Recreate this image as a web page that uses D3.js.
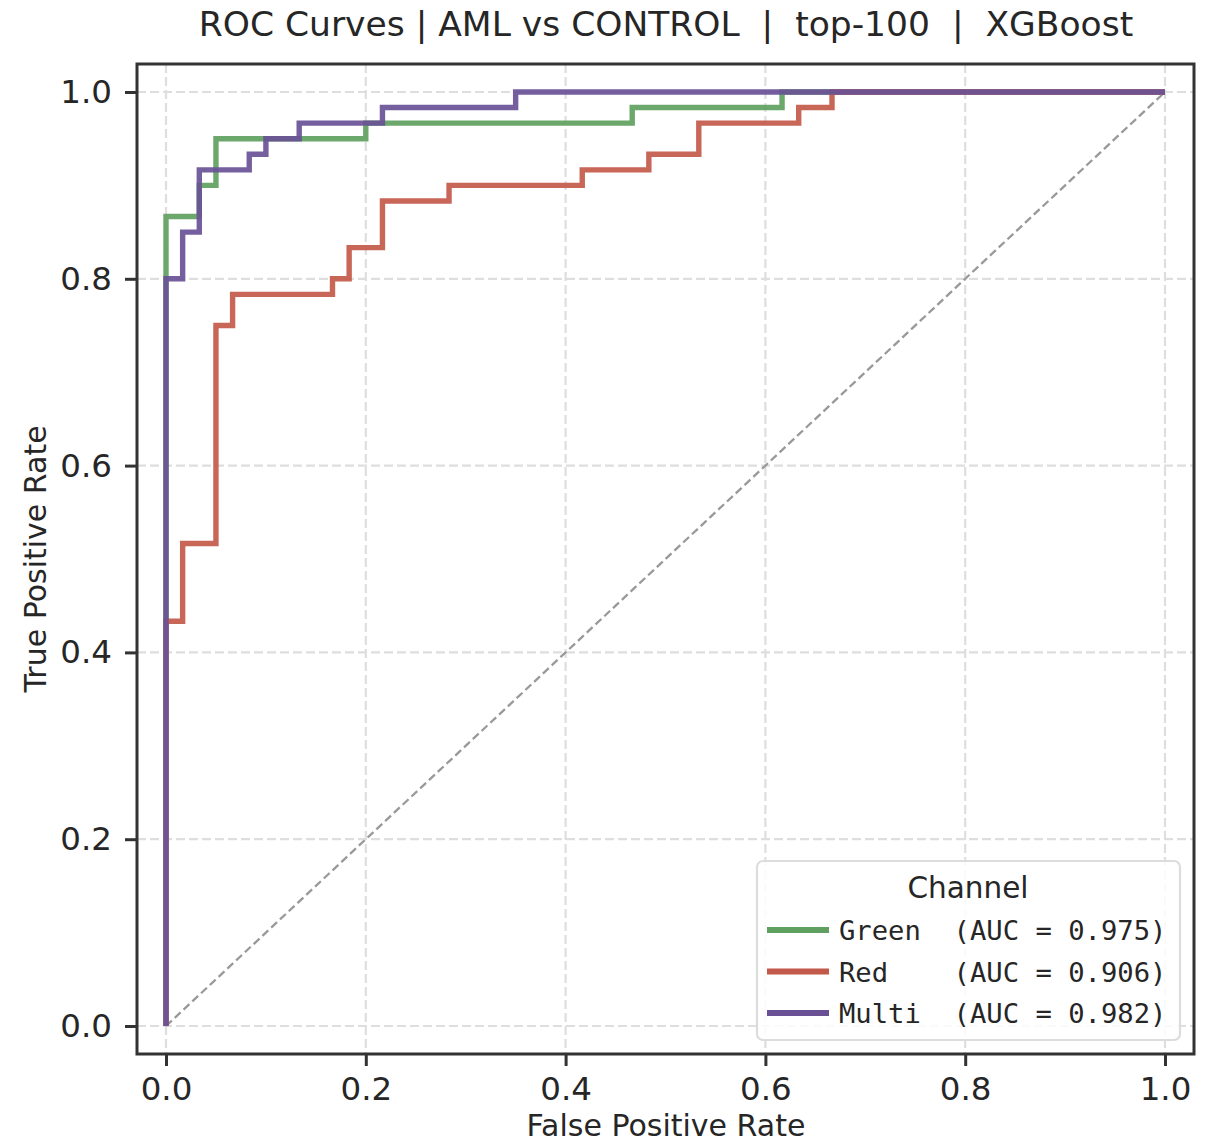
<!DOCTYPE html>
<html><head><meta charset="utf-8">
<script src="https://cdn.jsdelivr.net/npm/d3@7"></script>
<style>
html,body{margin:0;padding:0;background:#fff;}
svg text{font-family:"DejaVu Sans",sans-serif;fill:#262626;}
</style></head>
<body>
<svg id="chart" width="1218" height="1144"></svg>
<script>
const title = "ROC Curves | AML vs CONTROL  |  top-100  |  XGBoost";
const xTicks = [0.0, 0.2, 0.4, 0.6, 0.8, 1.0];
const yTicks = [0.0, 0.2, 0.4, 0.6, 0.8, 1.0];
const seriesNames = ["Green", "Red", "Multi"];
const aucValues = [0.975, 0.906, 0.982];
const colors = ["#5f9f60", "#c3594a", "#6a5196"];
// ROC step points in units of 1/60
const greenFpr = [0, 0, 2, 2, 3, 3, 12, 12, 28, 28, 37, 37, 60];
const greenTpr = [0, 52, 52, 54, 54, 57, 57, 58, 58, 59, 59, 60, 60];
const redFpr = [0, 0, 1, 1, 3, 3, 4, 4, 10, 10, 11, 11, 13, 13, 17, 17, 25, 25, 29, 29, 32, 32, 38, 38, 40, 40, 60];
const redTpr = [0, 26, 26, 31, 31, 45, 45, 47, 47, 48, 48, 50, 50, 53, 53, 54, 54, 55, 55, 56, 56, 58, 58, 59, 59, 60, 60];
const multiFpr = [0, 0, 1, 1, 2, 2, 5, 5, 6, 6, 8, 8, 13, 13, 21, 21, 60];
const multiTpr = [0, 48, 48, 51, 51, 55, 55, 56, 56, 57, 57, 58, 58, 59, 59, 60, 60];
const denom = 60;

const svg = d3.select("#chart");
const L = 137, R = 1194, T = 64, B = 1054;
const x = d3.scaleLinear().domain([0, 1]).range([166, 1165]);
const y = d3.scaleLinear().domain([0, 1]).range([1026, 92]);

// gridlines
const grid = svg.append("g");
xTicks.forEach(t => grid.append("line").attr("x1", x(t)).attr("x2", x(t)).attr("y1", T).attr("y2", B)
  .attr("stroke", "#dedede").attr("stroke-width", 2.2).attr("stroke-dasharray", "9,4"));
yTicks.forEach(t => grid.append("line").attr("y1", y(t)).attr("y2", y(t)).attr("x1", L).attr("x2", R)
  .attr("stroke", "#dedede").attr("stroke-width", 2.2).attr("stroke-dasharray", "9,4"));

// diagonal
svg.append("line").attr("x1", x(0)).attr("y1", y(0)).attr("x2", x(1)).attr("y2", y(1))
  .attr("stroke", "#999").attr("stroke-width", 2.3).attr("stroke-dasharray", "8,4");

const series = [
  {name: seriesNames[0], fpr: greenFpr, tpr: greenTpr},
  {name: seriesNames[1], fpr: redFpr, tpr: redTpr},
  {name: seriesNames[2], fpr: multiFpr, tpr: multiTpr}
];
const line = d3.line().x(d => x(d[0])).y(d => y(d[1]));
series.forEach((s, i) => {
  const pts = s.fpr.map((f, j) => [f / denom, s.tpr[j] / denom]);
  svg.append("path").attr("d", line(pts)).attr("fill", "none")
    .attr("stroke", colors[i]).attr("stroke-width", 5.4).attr("stroke-opacity", 0.92)
    .attr("stroke-linejoin", "miter");
});

// frame
svg.append("rect").attr("x", L).attr("y", T).attr("width", R - L).attr("height", B - T)
  .attr("fill", "none").attr("stroke", "#333").attr("stroke-width", 3);

// axes ticks
const xAxis = svg.append("g").attr("transform", `translate(0,${B})`)
  .call(d3.axisBottom(x).tickValues(xTicks).tickFormat(d3.format(".1f")).tickSize(12).tickPadding(11));
const yAxis = svg.append("g").attr("transform", `translate(${L},0)`)
  .call(d3.axisLeft(y).tickValues(yTicks).tickFormat(d3.format(".1f")).tickSize(12).tickPadding(13));
[xAxis, yAxis].forEach(a => {
  a.select(".domain").remove();
  a.selectAll("line").attr("stroke", "#333").attr("stroke-width", 3);
  a.selectAll("text").attr("font-size", 32.5).attr("font-family", "DejaVu Sans").attr("fill", "#262626");
});

// titles
svg.append("text").attr("x", 666).attr("y", 36).attr("text-anchor", "middle")
  .attr("font-size", 34.5).style("white-space", "pre").text(title);
svg.append("text").attr("x", 666).attr("y", 1136).attr("text-anchor", "middle")
  .attr("font-size", 30).text("False Positive Rate");
svg.append("text").attr("transform", "translate(46,559) rotate(-90)").attr("text-anchor", "middle")
  .attr("font-size", 30).text("True Positive Rate");

// legend
const lg = svg.append("g");
lg.append("rect").attr("x", 757).attr("y", 861).attr("width", 423).attr("height", 179)
  .attr("rx", 6).attr("fill", "#fff").attr("fill-opacity", 0.85).attr("stroke", "#dcdcdc").attr("stroke-width", 2.2);
lg.append("text").attr("x", 968).attr("y", 898).attr("text-anchor", "middle").attr("font-size", 29.5).text("Channel");
const pad = n => n + " ".repeat(6 - n.length);
series.forEach((s, i) => {
  const yy = 930 + i * 41.5;
  lg.append("line").attr("x1", 767).attr("x2", 829).attr("y1", yy).attr("y2", yy)
    .attr("stroke", colors[i]).attr("stroke-width", 6);
  lg.append("text").attr("x", 839).attr("y", yy + 10).attr("font-size", 27.2)
    .style("font-family", "'DejaVu Sans Mono',monospace").style("white-space", "pre")
    .text(`${pad(s.name)} (AUC = ${aucValues[i].toFixed(3)})`);
});
</script>
</body></html>
